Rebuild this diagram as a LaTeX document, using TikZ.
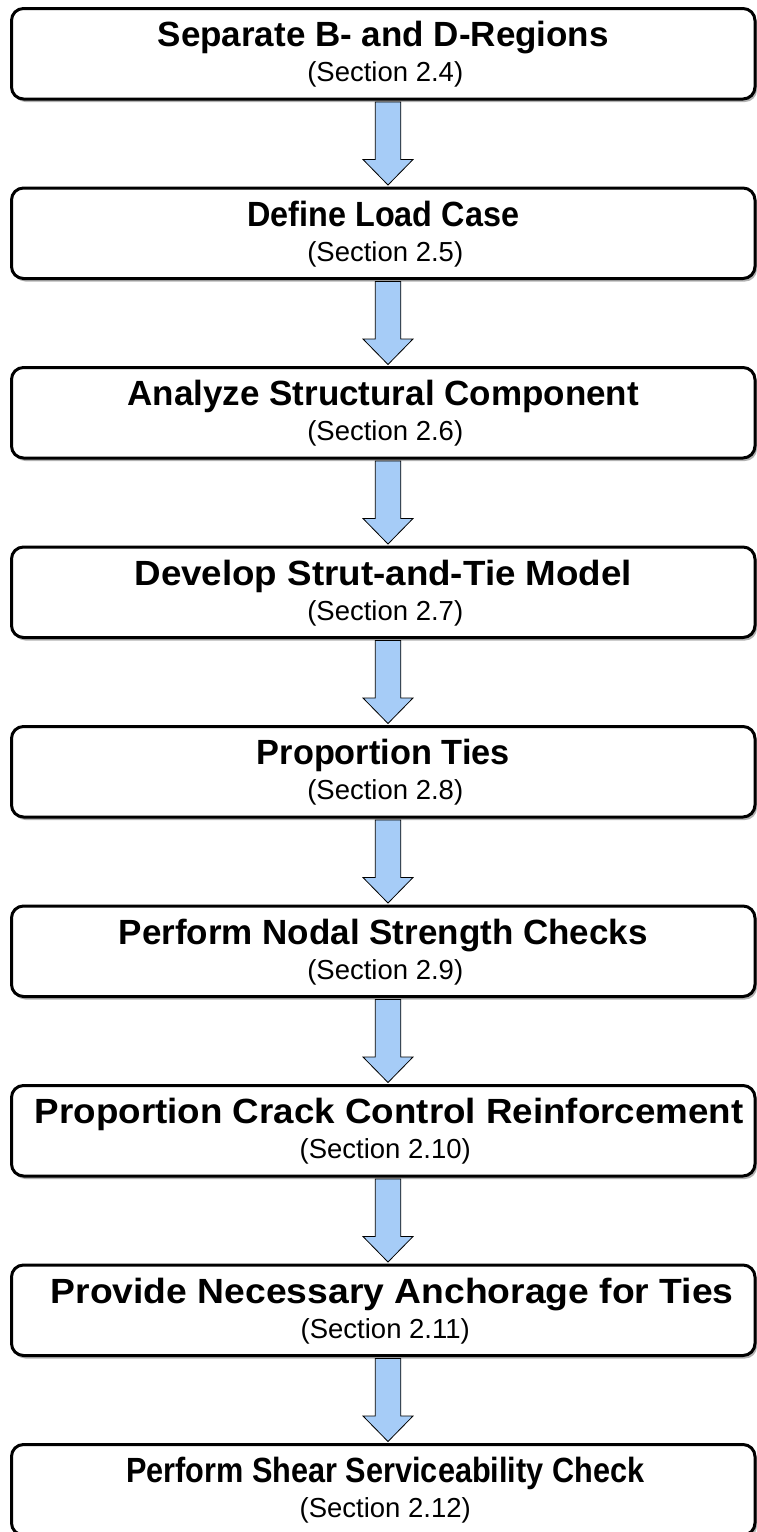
\documentclass[tikz,border=0pt]{standalone}
\usepackage{fontspec}
\setmainfont{Liberation Sans}
\usetikzlibrary{calc,shadows}
\definecolor{arrowblue}{RGB}{166,204,247}
\tikzset{
  flowbox/.style={draw=black, line width=3pt, rounded corners=12pt, fill=white,
    minimum width=743.5pt, minimum height=90.5pt, inner sep=0pt,
    drop shadow={shadow xshift=2pt, shadow yshift=-3pt, opacity=0.3, fill=black}},
  titletext/.style={anchor=base, inner sep=0pt, font=\fontsize{35}{40}\selectfont\bfseries},
  sectext/.style={anchor=base, inner sep=0pt, font=\fontsize{27.5}{32}\selectfont},
  flowarr/.style={draw=black, line width=0.8pt, fill=arrowblue, line join=miter}
}
\newcommand{\flowarrow}[2]{%
  \draw[flowarr] ($(#1.south)+(-8,1.5)$) -- ($(#1.south)+(17.5,1.5)$)
    -- ($(#2.north)+(17.5,-27)$) -- ($(#2.north)+(29.75,-27)$)
    -- ($(#2.north)+(4.75,-1.5)$) -- ($(#2.north)+(-20.25,-27)$)
    -- ($(#2.north)+(-8,-27)$) -- cycle;}
\begin{document}
\begin{tikzpicture}[x=1pt,y=-1pt]
\fill[white] (0,0) rectangle (757,1532);
\useasboundingbox (0,0) rectangle (757,1532);
\foreach \i/\t/\s/\sx/\dx in {
  1/{Separate B- and D-Regions}/{(Section 2.4)}/1/0,
  2/{Define Load Case}/{(Section 2.5)}/0.925/0,
  3/{Analyze Structural Component}/{(Section 2.6)}/1/0,
  4/{Develop Strut-and-Tie Model}/{(Section 2.7)}/1.05/0,
  5/{Proportion Ties}/{(Section 2.8)}/0.98/0,
  6/{Perform Nodal Strength Checks}/{(Section 2.9)}/1/0,
  7/{Proportion Crack Control Reinforcement}/{(Section 2.10)}/1.05/6,
  8/{Provide Necessary Anchorage for Ties}/{(Section 2.11)}/1.065/9,
  9/{Perform Shear Serviceability Check}/{(Section 2.12)}/0.876/2}{
  \node[flowbox] (b\i) at (383.25, {53.75+179.5*(\i-1)}) {};
  \node[titletext] (t\i) at ($(b\i.north)+(\dx,39.5)$) {\scalebox{\sx}[1]{\t}};
  \node[sectext] (s\i) at ($(b\i.north)+(2,74.5)$) {\s};
}
\flowarrow{b1}{b2}
\flowarrow{b2}{b3}
\flowarrow{b3}{b4}
\flowarrow{b4}{b5}
\flowarrow{b5}{b6}
\flowarrow{b6}{b7}
\flowarrow{b7}{b8}
\flowarrow{b8}{b9}
\end{tikzpicture}
\end{document}
